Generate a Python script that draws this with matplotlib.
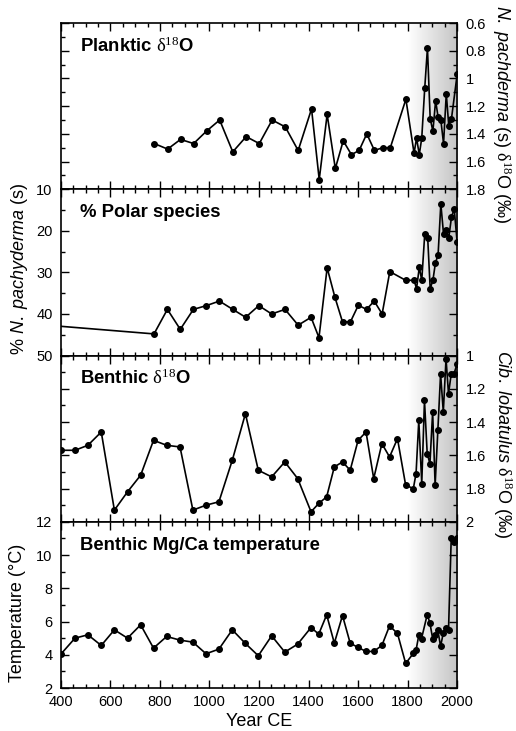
import numpy as np
import matplotlib
matplotlib.use('Agg')
import matplotlib.pyplot as plt
from matplotlib.colors import LinearSegmentedColormap
from matplotlib.ticker import MultipleLocator, FormatStrFormatter

plt.rcParams['font.family'] = ['Liberation Sans', 'DejaVu Sans']
plt.rcParams['mathtext.fontset'] = 'custom'
plt.rcParams['mathtext.rm'] = 'Liberation Serif'
plt.rcParams['mathtext.it'] = 'Liberation Sans:italic'
plt.rcParams['mathtext.bf'] = 'Liberation Sans:bold'

# planktic d18O (N. pachyderma)
plank_year = [777, 831, 883, 936, 988, 1041, 1094, 1148, 1201, 1253, 1306, 1358,
              1412, 1443, 1475, 1508, 1540, 1573, 1604, 1635, 1666, 1699, 1730, 1793,
              1826, 1836, 1847, 1857, 1869, 1880, 1891, 1902, 1913, 1923, 1934, 1945,
              1956, 1966, 1977, 2000]
plank_d18o = [1.47, 1.51, 1.44, 1.47, 1.38, 1.30, 1.53, 1.42, 1.47, 1.30, 1.35, 1.52,
              1.22, 1.73, 1.26, 1.65, 1.45, 1.55, 1.52, 1.40, 1.52, 1.50, 1.50, 1.15,
              1.54, 1.43, 1.55, 1.43, 1.07, 0.78, 1.29, 1.38, 1.16, 1.28, 1.30, 1.47,
              1.11, 1.34, 1.29, 0.97]

# % polar species
polar_year = [200, 776, 830, 882, 935, 987, 1040, 1094, 1146, 1199, 1251, 1305, 1358,
              1410, 1442, 1475, 1506, 1537, 1569, 1601, 1634, 1665, 1697, 1728, 1792,
              1826, 1836, 1847, 1857, 1869, 1881, 1891, 1902, 1912, 1923, 1934, 1945,
              1955, 1966, 1977, 1988, 2000]
polar_pct = [42.0, 44.8, 38.9, 43.7, 38.9, 38.0, 36.9, 38.9, 40.8, 38.0, 40.0, 38.9, 42.7,
             40.8, 45.7, 28.9, 35.9, 41.9, 41.9, 37.9, 38.9, 36.9, 40.0, 29.8, 31.9,
             31.9, 33.9, 28.8, 31.9, 20.8, 21.7, 33.9, 31.9, 27.8, 25.7, 13.5, 20.8,
             19.7, 21.7, 16.7, 14.7, 22.8]

# benthic d18O (Cib. lobatulus)
benth_year = [400, 457, 509, 563, 616, 669, 722, 774, 827, 881, 933, 986, 1038, 1092,
              1145, 1197, 1251, 1304, 1356, 1410, 1441, 1473, 1504, 1537, 1568, 1600,
              1632, 1663, 1696, 1727, 1759, 1792, 1823, 1834, 1845, 1857, 1868, 1879,
              1890, 1901, 1911, 1922, 1933, 1944, 1955, 1965, 1976, 1987, 2000]
benth_d18o = [1.57, 1.57, 1.54, 1.46, 1.93, 1.82, 1.72, 1.51, 1.54, 1.55, 1.93, 1.90,
              1.88, 1.63, 1.35, 1.69, 1.73, 1.64, 1.74, 1.94, 1.89, 1.85, 1.67, 1.64,
              1.69, 1.51, 1.46, 1.74, 1.53, 1.61, 1.50, 1.78, 1.80, 1.71, 1.39, 1.77,
              1.27, 1.59, 1.65, 1.34, 1.78, 1.45, 1.11, 1.34, 1.02, 1.23, 1.11, 1.11,
              1.05]

# benthic Mg/Ca temperature
mgca_year = [400, 457, 509, 563, 616, 669, 722, 774, 827, 881, 933, 986, 1038, 1092,
             1145, 1197, 1251, 1304, 1356, 1410, 1441, 1473, 1504, 1537, 1568, 1600,
             1632, 1663, 1696, 1727, 1759, 1792, 1823, 1834, 1845, 1856, 1879, 1890,
             1901, 1911, 1922, 1933, 1944, 1954, 1965, 1976, 1987, 2000]
mgca_temp = [4.04, 5.0, 5.2, 4.56, 5.5, 5.0, 5.8, 4.4, 5.1, 4.88, 4.76, 4.06, 4.34, 5.5,
             4.68, 3.94, 5.14, 4.16, 4.64, 5.64, 5.24, 6.4, 4.7, 6.36, 4.7, 4.44,
             4.2, 4.2, 4.56, 5.74, 5.28, 3.48, 4.08, 4.28, 5.17, 4.97, 6.41, 5.91,
             4.97, 5.17, 5.47, 4.51, 5.31, 5.63, 5.47, 11.02, 10.76, 11.02]

fig = plt.figure(figsize=(5.16, 7.31), dpi=100)
axes = fig.subplots(4, 1, sharex=True)
fig.subplots_adjust(left=0.118, right=0.886, top=0.9685, bottom=0.0588, hspace=0)

shade = LinearSegmentedColormap.from_list('shade', ['white', '#c4c4c4'])
grad = np.linspace(0, 1, 256).reshape(1, -1)

# (x, y, ylim, major, minor, label side, title, ylabel, ylabel position)
panels = [
    (plank_year, plank_d18o, (1.8, 0.6), 0.2, 0.1, 'right',
     r'Planktic $\mathrm{\delta^{18}}$O',
     r'$\mathit{N.\ pachderma}$ (s) $\mathrm{\delta^{18}}$O (‰)', (1.113, 0.45)),
    (polar_year, polar_pct, (50, 10), 10, 5, 'left',
     '% Polar species', r'% $\mathit{N.\ pachyderma}$ (s)', (-0.104, 0.52)),
    (benth_year, benth_d18o, (2, 1), 0.2, 0.1, 'right',
     r'Benthic $\mathrm{\delta^{18}}$O',
     r'$\mathit{Cib.\ lobatulus}$ $\mathrm{\delta^{18}}$O (‰)', (1.116, 0.47)),
    (mgca_year, mgca_temp, (2, 12), 2, 1, 'left',
     'Benthic Mg/Ca temperature', 'Temperature (°C)', (-0.11, 0.45)),
]

for ax, (x, y, lim, major, minor, side, title, ylab, lpos) in zip(axes, panels):
    ax.imshow(grad, extent=[1800, 2000, 0, 1], transform=ax.get_xaxis_transform(),
              aspect='auto', cmap=shade, zorder=0)
    ax.plot(x, y, color='black', lw=1.2, marker='o', ms=4, zorder=3)
    ax.set_xlim(400, 2000)
    ax.set_ylim(*lim)
    ax.yaxis.set_major_locator(MultipleLocator(major))
    ax.yaxis.set_minor_locator(MultipleLocator(minor))
    ax.yaxis.set_major_formatter(FormatStrFormatter('%g'))
    ax.xaxis.set_major_locator(MultipleLocator(200))
    ax.xaxis.set_minor_locator(MultipleLocator(50))
    ax.tick_params(which='both', direction='in', top=True, bottom=True,
                   left=True, right=True, labelsize=10.5, width=1)
    ax.tick_params(which='major', length=6)
    ax.tick_params(which='minor', length=3)
    ax.tick_params(axis='x', pad=5)
    ax.tick_params(axis='y', pad=6)
    if side == 'right':
        ax.tick_params(labelleft=False, labelright=True)
        ax.yaxis.set_label_position('right')
        ax.set_ylabel(ylab, fontsize=13, rotation=270, va='center', ha='center',
                      rotation_mode='anchor')
    else:
        ax.set_ylabel(ylab, fontsize=13, va='center', ha='center',
                      rotation_mode='anchor')
    ax.yaxis.set_label_coords(*lpos)
    for s in ax.spines.values():
        s.set_linewidth(1.2)
    ax.text(0.048, 0.86, title, transform=ax.transAxes, fontsize=13.3,
            fontweight='bold', va='center', ha='left')

axes[-1].set_xlabel('Year CE', fontsize=13, labelpad=3)

fig.savefig('out.png', dpi=100)
